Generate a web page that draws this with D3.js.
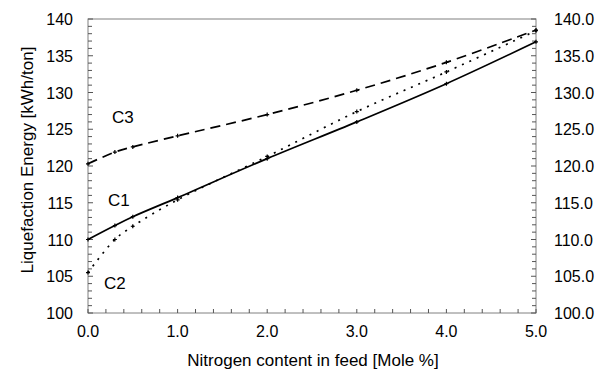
<!DOCTYPE html>
<html>
<head>
<meta charset="utf-8">
<script src="https://cdn.jsdelivr.net/npm/d3@7"></script>
<style>
  body { margin: 0; background: #fff; }
  text { font-family: Arial, "Liberation Sans", sans-serif; fill: #000; }
</style>
</head>
<body>
<div id="chart"></div>
<script>
// nitrogen content in feed (mole %)
const xVals = [0, 0.3, 0.5, 1, 2, 3, 4, 5];
const c1 = [110.0, 111.9, 113.1, 115.7, 121.0, 126.0, 131.2, 136.9];
const c2 = [105.5, 110.0, 111.8, 115.4, 121.3, 127.4, 132.8, 138.4];
const c3 = [120.3, 121.9, 122.6, 124.1, 127.0, 130.3, 134.1, 138.5];
const xTicks = [0, 1, 2, 3, 4, 5];
const yTicks = [100, 105, 110, 115, 120, 125, 130, 135, 140];

const margin = { top: 19, right: 72, bottom: 70, left: 88 },
    width = 536 - margin.left,
    height = 313 - margin.top;

const x = d3.scaleLinear().domain([0, 5]).range([0, width]);
const y = d3.scaleLinear().domain([100, 140]).range([height, 0]);

const svg = d3.select("#chart").append("svg")
    .attr("width", 608)
    .attr("height", 383)
    .append("g")
    .attr("transform", "translate(" + margin.left + "," + margin.top + ")");

// frame
svg.append("rect")
    .attr("width", width)
    .attr("height", height)
    .attr("fill", "none")
    .attr("stroke", "#808080");

// minor ticks (inside)
const ax = svg.append("g").attr("stroke", "#555").attr("stroke-width", 1);
d3.range(0, 5.0001, 0.2).forEach(function (v) {
    ax.append("line").attr("x1", x(v)).attr("x2", x(v))
        .attr("y1", height).attr("y2", height - 4);
});
d3.range(100, 140.001, 1).forEach(function (v) {
    const len = v % 5 === 0 ? 5 : 4;
    ax.append("line").attr("x1", 0).attr("x2", len)
        .attr("y1", y(v)).attr("y2", y(v));
    ax.append("line").attr("x1", width).attr("x2", width - len)
        .attr("y1", y(v)).attr("y2", y(v));
});

// tick labels
svg.selectAll(".xl").data(xTicks).enter().append("text")
    .attr("x", d => x(d)).attr("y", height + 24)
    .attr("text-anchor", "middle").attr("font-size", 16)
    .text(d => d.toFixed(1));
svg.selectAll(".yl").data(yTicks).enter().append("text")
    .attr("x", -15).attr("y", d => y(d) + 6)
    .attr("text-anchor", "end").attr("font-size", 16)
    .text(d => d);
svg.selectAll(".yr").data(yTicks).enter().append("text")
    .attr("x", width + 18).attr("y", d => y(d) + 6)
    .attr("text-anchor", "start").attr("font-size", 16)
    .text(d => d.toFixed(1));

// axis titles
svg.append("text")
    .attr("x", width / 2 + 1).attr("y", height + 53)
    .attr("text-anchor", "middle").attr("font-size", 17)
    .text("Nitrogen content in feed [Mole %]");
svg.append("text")
    .attr("transform", "translate(-55," + (height / 2 - 6) + ") rotate(-90)")
    .attr("text-anchor", "middle").attr("font-size", 17)
    .text("Liquefaction Energy [kWh/ton]");

// curves
const line = d3.line().x(d => x(d[0])).y(d => y(d[1])).curve(d3.curveCatmullRom.alpha(0.5));
const series = [
    { name: "C1", vals: c1, dash: null },
    { name: "C2", vals: c2, dash: "2,6" },
    { name: "C3", vals: c3, dash: "10,6" }
];
series.forEach(function (s) {
    const pts = xVals.map((v, i) => [v, s.vals[i]]);
    svg.append("path")
        .attr("d", line(pts))
        .attr("fill", "none")
        .attr("stroke", "#000")
        .attr("stroke-width", 1.7)
        .attr("stroke-dasharray", s.dash);
    svg.selectAll(null).data(pts).enter().append("path")
        .attr("d", d => "M" + (x(d[0]) - 2) + "," + y(d[1]) + "h4M" + x(d[0]) + "," + (y(d[1]) - 2) + "v4")
        .attr("stroke", "#000")
        .attr("stroke-width", 1.2);
});

// curve labels
const labels = [["C3", 112, 123], ["C1", 108, 206], ["C2", 104, 289]];
svg.selectAll(".cl").data(labels).enter().append("text")
    .attr("x", d => d[1] - margin.left).attr("y", d => d[2] - margin.top)
    .attr("font-size", 17)
    .text(d => d[0]);
</script>
</body>
</html>
